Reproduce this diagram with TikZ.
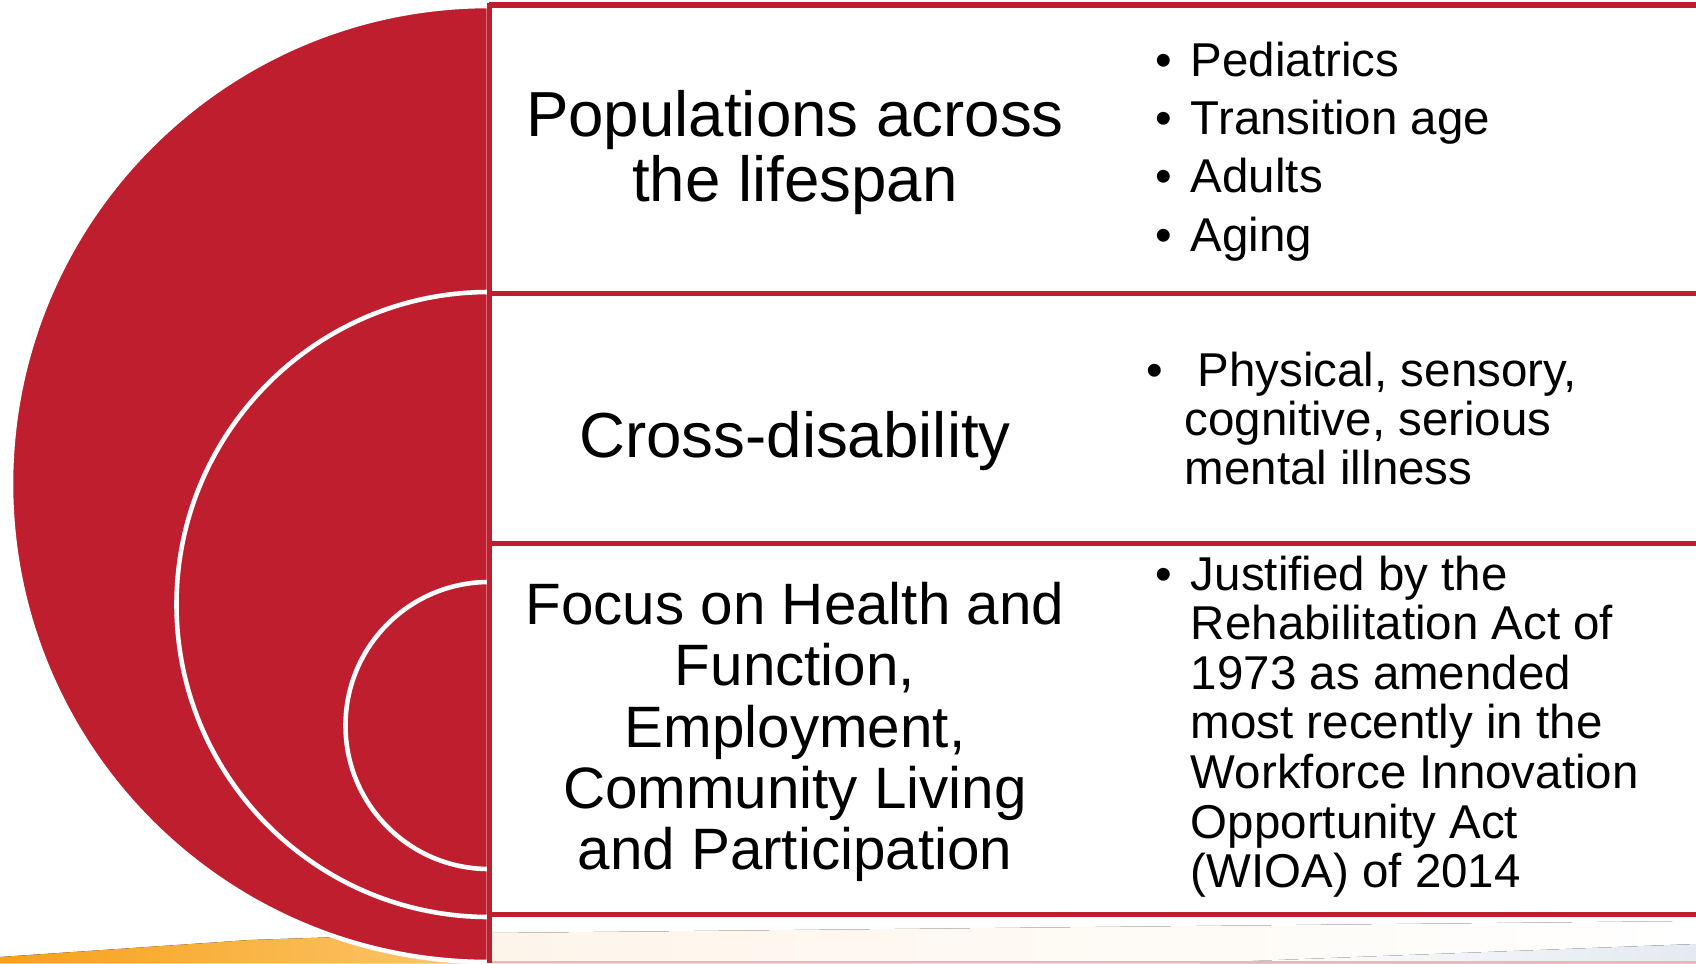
\documentclass[tikz,border=0pt]{standalone}
\usepackage{fontspec}
\setmainfont{Liberation Sans}
\definecolor{wheelred}{HTML}{BE1E2D}
\definecolor{swooshA}{HTML}{F7A11A}
\definecolor{swooshB}{HTML}{FCC76F}
\definecolor{cream}{HTML}{FDF5EA}
\definecolor{mist}{HTML}{E4EAF1}
\definecolor{rimpink}{HTML}{EFB3B9}
\tikzset{
  % ---- left wheel ------------------------------------------------
  wheel/.style   = {fill=wheelred, draw=white, line width=1.3pt},
  % ---- table rules -----------------------------------------------
  rowrule/.style = {draw=wheelred, line width=1.55pt},
  % ---- texts -----------------------------------------------------
  topic/.style   = {font=\fontsize{18.1}{18.5}\selectfont, align=center,
                    inner sep=0pt},
  topicsm/.style = {font=\fontsize{16.6}{17.4}\selectfont, align=center,
                    inner sep=0pt},
  blist/.style   = {anchor=west, inner sep=0pt},
}
\begin{document}
\begin{tikzpicture}[x=0.01cm, y=-0.01cm]
  \useasboundingbox (0,0) rectangle (1696,963);
  \fill[white] (0,0) rectangle (1696,963);
  % ---- slide swooshes --------------------------------------------
  \fill[left color=swooshA, right color=swooshB] (0,963) -- (0,957) -- (250,940) -- (340,937) -- (489,963) -- cycle;
  \fill[left color=cream, right color=white] (492,933) -- (1696,921) -- (1696,963) -- (492,963) -- cycle;
  \fill[left color=white, right color=mist] (1200,963) -- (1696,944) -- (1696,963) -- cycle;
  % ---- wheel -----------------------------------------------------
  \filldraw[wheel] (489,6) arc[start angle=270, end angle=90, radius=478] -- cycle;
  \filldraw[wheel] (489,292) arc[start angle=270, end angle=90, radius=312.5] -- cycle;
  \filldraw[wheel] (489,582) arc[start angle=270, end angle=90, radius=143.5] -- cycle;
  % ---- rows ------------------------------------------------------
  \draw[rowrule] (489,5) -- (1696,5);
  \draw[rowrule] (489,293.5) -- (1696,293.5);
  \draw[rowrule] (489,543.5) -- (1696,543.5);
  \draw[rowrule] (489,914.5) -- (1696,914.5);
  \draw[rimpink, line width=0.4pt] (492,962) -- (1696,962);
  \draw[rowrule] (489.5,3) -- (489.5,963);
  % ---- left column -----------------------------------------------
  \node[topic] (lifespan) at (795,153) {Populations across\\the lifespan};
  \node[topic] (crossdis) at (795,441) {Cross-disability};
  \node[topicsm] (focus) at (795,732) {Focus on Health and\\Function,\\Employment,\\Community Living\\and Participation};
  % ---- right column ----------------------------------------------
  \node[blist, font=\fontsize{13.5}{16.6}\selectfont] (agelist) at (1155,152)
    {\begin{tabular}{@{}l@{\hspace{5.3pt}}l@{}}
      \textbullet & Pediatrics\\
      \textbullet & Transition age\\
      \textbullet & Adults\\
      \textbullet & Aging
    \end{tabular}};
  \node[blist, font=\fontsize{13.5}{13.95}\selectfont] (dislist) at (1146,426)
    {\begin{tabular}{@{}l@{\hspace{6.1pt}}l@{}}
      \textbullet & \hspace{3.7pt}Physical, sensory,\\
                  & cognitive, serious\\
                  & mental illness
    \end{tabular}};
  \node[blist, font=\fontsize{13.5}{14.1}\selectfont] (lawlist) at (1155,729)
    {\begin{tabular}{@{}l@{\hspace{5.3pt}}l@{}}
      \textbullet & Justified by the\\
                  & Rehabilitation Act of\\
                  & 1973 as amended\\
                  & most recently in the\\
                  & Workforce Innovation\\
                  & Opportunity Act\\
                  & (WIOA) of 2014
    \end{tabular}};
\end{tikzpicture}
\end{document}
